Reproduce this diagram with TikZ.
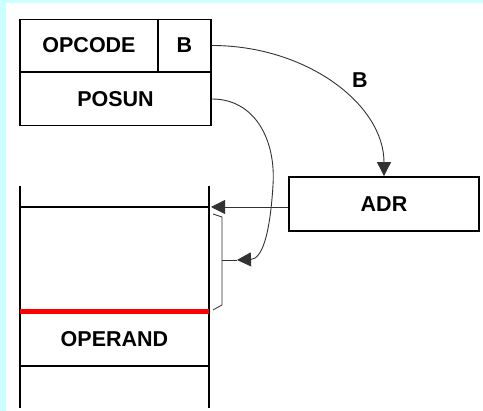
\documentclass[tikz,border=0pt]{standalone}
\usepackage{fontspec}
\setmainfont{Liberation Sans}
\usetikzlibrary{arrows.meta}
\definecolor{bgcyan}{RGB}{204,255,255}
\definecolor{linegray}{RGB}{50,50,50}
\begin{document}
\begin{tikzpicture}[x=1pt,y=-1pt,
  lbl/.style={font=\fontsize{21.5}{25}\selectfont\bfseries},
  field/.style={draw,line width=1.8pt,inner sep=0pt,lbl},
  conn/.style={draw=linegray,line width=0.9pt},
  tip/.style={-{Triangle[length=14pt,width=14pt]}},
  memline/.style={line width=1.8pt}]
\fill[bgcyan] (0,0) rectangle (483,411);
\fill[white] (6,3) rectangle (483,411);
\useasboundingbox (0,0) rectangle (483,411);
% instruction word
\node[field,minimum width=138pt,minimum height=52pt] (opcode) at (89,45.5) {OPCODE};
\node[field,minimum width=53pt,minimum height=52pt] (bfield) at (184.5,45.5) {B};
\node[field,minimum width=191pt,minimum height=53pt] (posun) at (115.5,99) {POSUN};
% address register
\node[field,minimum width=190pt,minimum height=54pt] (adr) at (384,204) {ADR};
% memory
\draw[memline] (20,186) -- (20,408);
\draw[memline] (209,186) -- (209,408);
\draw[memline] (20,207) -- (209,207);
\draw[red,line width=4.5pt] (20,311.5) -- (209,311.5);
\draw[memline] (20,366) -- (209,366);
\node[lbl] (operand) at (114.5,339) {OPERAND};
\coordinate (memtop) at (211,207);
% bracket
\coordinate (brk) at (237,260);
\draw[conn,line width=0.8pt] (213,214) -- (222,217) -- (222,305) -- (213,310);
\draw[conn,line width=0.8pt] (222,260) -- (brk);
% connectors
\draw[conn,tip] (adr.west |- memtop) -- (memtop);
\draw[conn,tip] (bfield.east) .. controls (306.5,45.5) and (384,104.4) .. (adr.north);
\node[lbl] (blabel) at (360,80) {B};
\draw[conn,tip] (posun.east) .. controls (255,99) and (276,140) .. (273,185)
  .. controls (270,235) and (262,259) .. (brk);
\end{tikzpicture}
\end{document}
